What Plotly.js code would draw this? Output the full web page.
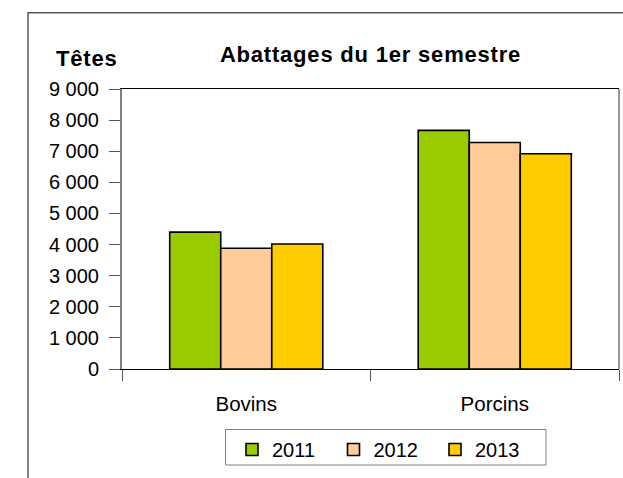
<!DOCTYPE html>
<html>
<head>
<meta charset="utf-8">
<script src="https://cdn.plot.ly/plotly-3.0.1.min.js"></script>
<style>
  html, body { margin: 0; padding: 0; background: #fff; }
  #chart { width: 623px; height: 478px; }
  .gtitle, .annotation-text { letter-spacing: 0.8px; }
</style>
</head>
<body>
<div id="chart"></div>
<script>
const categories = ["Bovins", "Porcins"];
const years = ["2011", "2012", "2013"];
const values2011 = [4400, 7670];
const values2012 = [3880, 7280];
const values2013 = [4020, 6920];
const colors = ["#99CC00", "#FFCC99", "#FFCC00"];
const yTicks = [0, 1000, 2000, 3000, 4000, 5000, 6000, 7000, 8000, 9000];

const series = [values2011, values2012, values2013];
const font = "Liberation Sans, Arial, sans-serif";

const data = series.map((vals, i) => ({
  type: "bar",
  name: years[i],
  x: categories,
  y: vals,
  marker: { color: colors[i], line: { color: "#000000", width: 1.6 } }
}));

const layout = {
  width: 623,
  height: 478,
  margin: { l: 122, r: 4, t: 89, b: 109 },
  paper_bgcolor: "#ffffff",
  plot_bgcolor: "#ffffff",
  font: { family: font, color: "#000000", size: 20 },
  separators: ", ",
  barmode: "group",
  bargap: 0.384,
  bargroupgap: 0,
  showlegend: true,
  title: {
    text: "<b>Abattages du 1er semestre</b>",
    font: { family: font, size: 22, color: "#000000" },
    x: 0.5, xref: "paper", xanchor: "center",
    y: 1 - 54 / 478, yref: "container", yanchor: "middle"
  },
  xaxis: {
    type: "category",
    showline: true, linecolor: "#000000", linewidth: 1, mirror: true,
    ticks: "outside", tickson: "boundaries", ticklen: 11, tickcolor: "#555555", tickwidth: 1,
    ticklabelstandoff: 16,
    tickfont: { family: font, size: 20.5, color: "#000000" },
    showgrid: false, zeroline: false
  },
  yaxis: {
    range: [0, 9000],
    tickvals: yTicks,
    tickformat: ",d",
    showline: true, linecolor: "#808080", linewidth: 2, mirror: false,
    ticks: "outside", ticklen: 11, tickcolor: "#555555", tickwidth: 1,
    ticklabelstandoff: 6,
    tickfont: { family: font, size: 20, color: "#000000" },
    showgrid: false, zeroline: false
  },
  legend: {
    orientation: "h",
    x: (232 - 122) / 497, xanchor: "left",
    y: (369 - 430) / 280, yanchor: "top",
    borderwidth: 0,
    bgcolor: "rgba(0,0,0,0)",
    font: { family: font, size: 20, color: "#000000" },
    entrywidth: 56.5,
    traceorder: "normal"
  },
  shapes: [
    { type: "line", xref: "paper", yref: "paper", x0: 1, x1: 1, y0: 0, y1: 1,
      line: { color: "#333333", width: 1 } },
    { type: "rect", xref: "paper", yref: "paper",
      x0: (28 - 122) / 497, x1: 1.05, y0: -0.5, y1: (369 - 12.7) / 280,
      line: { color: "#595959", width: 1.5 }, fillcolor: "rgba(0,0,0,0)", layer: "below" },
    { type: "rect", xref: "paper", yref: "paper",
      x0: (225.5 - 122) / 497, x1: (546 - 122) / 497,
      y0: (369 - 465) / 280, y1: (369 - 429.5) / 280,
      line: { color: "#808080", width: 1 }, fillcolor: "rgba(0,0,0,0)", layer: "below" }
  ],
  annotations: [
    { text: "<b>Têtes</b>", xref: "paper", yref: "paper",
      x: (86 - 122) / 497, xanchor: "center",
      y: (369 - 59) / 280, yanchor: "middle",
      showarrow: false, font: { family: font, size: 22, color: "#000000" } }
  ]
};

Plotly.newPlot("chart", data, layout, { displayModeBar: false, staticPlot: true });
</script>
</body>
</html>
